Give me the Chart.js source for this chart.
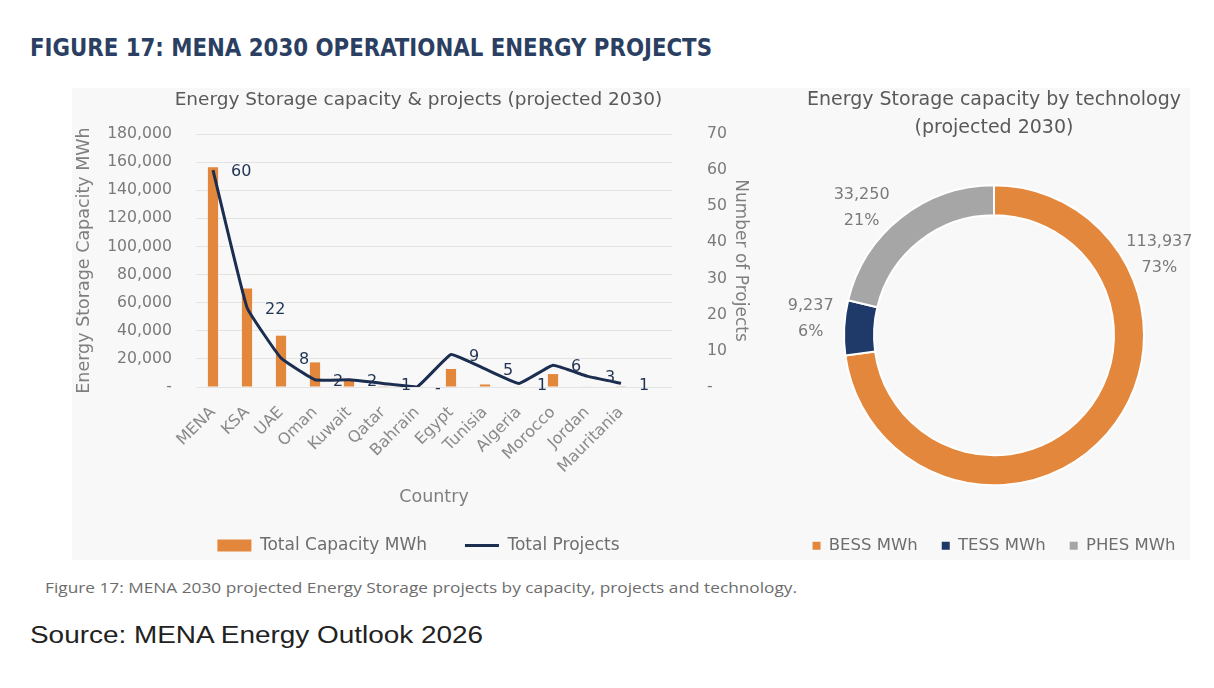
<!DOCTYPE html>
<html>
<head>
<meta charset="utf-8">
<script src="https://cdn.jsdelivr.net/npm/chart.js@4.4.1/dist/chart.umd.min.js"></script>
<style>
  body { margin: 0; width: 1214px; height: 688px; background: #fff; position: relative; overflow: hidden; }
  .txt { position: absolute; white-space: nowrap; transform-origin: 0 50%; }
  #panel { position: absolute; left: 72px; top: 88px; width: 1118px; height: 472px; background: #f8f8f8; }
  #head { left: 30px; top: 34px; line-height: 28px; font: bold 24px "Liberation Sans Narrow", "DejaVu Sans Condensed", sans-serif; color: #2b3f63; }
  #caption { left: 45px; top: 578px; line-height: 20px; font: 14px "Open Sans", sans-serif; color: #6d6d6d; }
  #source { left: 30px; top: 622px; line-height: 28px; font: 23px "Liberation Sans", Arial, sans-serif; color: #222; }
  #c1 { position: absolute; left: 72px; top: 88px; }
  #c2 { position: absolute; left: 786px; top: 86px; }
</style>
</head>
<body>
<div id="panel"></div>
<div class="txt" id="head">FIGURE 17: MENA 2030 OPERATIONAL ENERGY PROJECTS</div>
<canvas id="c1" width="693" height="476"></canvas>
<canvas id="c2" width="416" height="478"></canvas>
<div class="txt" id="caption">Figure 17: MENA 2030 projected Energy Storage projects by capacity, projects and technology.</div>
<div class="txt" id="source">Source: MENA Energy Outlook 2026</div>
<script>
// Data
const countries = ['MENA', 'KSA', 'UAE', 'Oman', 'Kuwait', 'Qatar', 'Bahrain', 'Egypt', 'Tunisia', 'Algeria', 'Morocco', 'Jordan', 'Mauritania'];
const capacityMWh = [156424, 70000, 36500, 17500, 5200, 500, 0, 12800, 1800, 300, 9200, 300, 200];
const projects = [60, 22, 8, 2, 2, 1, 0, 9, 5, 1, 6, 3, 1];
const capacityAxis = [0, 180000, 20000]; // min, max, step
const projectsAxis = [0, 70, 10];

const techLabels = ['BESS MWh', 'TESS MWh', 'PHES MWh'];
const techValues = [113937, 9237, 33250];

// Stretch html texts to the widths seen in the picture
function fit(id, w) {
  const el = document.getElementById(id);
  el.style.transform = 'scaleX(' + (w / el.getBoundingClientRect().width) + ')';
}
fit('head', 682);
fit('caption', 752);
fit('source', 453);

const FONT = '"DejaVu Sans", sans-serif';
const orange = '#e3873d';
const navy = '#1c2e50';
const grey = '#7a7a7a';

const dash = v => v === 0 ? '-' : v.toLocaleString('en-US');

// numbers next to the line points
const lineLabels = {
  id: 'lineLabels',
  afterDatasetsDraw(chart) {
    const ctx = chart.ctx;
    const vals = chart.data.datasets[1].data;
    ctx.save();
    ctx.font = '16px ' + FONT;
    ctx.fillStyle = '#1f3354';
    ctx.textAlign = 'left';
    ctx.textBaseline = 'middle';
    chart.getDatasetMeta(1).data.forEach((pt, i) => {
      ctx.fillText(dash(vals[i]), pt.x + 18, pt.y + 2);
    });
    ctx.restore();
  }
};

// value + percent outside the ring
const donutLabels = {
  id: 'donutLabels',
  afterDatasetsDraw(chart, args, opts) {
    const ctx = chart.ctx;
    const vals = chart.data.datasets[0].data;
    const total = vals.reduce((a, b) => a + b, 0);
    ctx.save();
    ctx.font = '16px ' + FONT;
    ctx.fillStyle = grey;
    ctx.textAlign = 'center';
    ctx.textBaseline = 'middle';
    chart.getDatasetMeta(0).data.forEach((arc, i) => {
      const p = arc.getProps(['x', 'y', 'outerRadius', 'startAngle', 'endAngle'], true);
      const a = opts.angles[i] != null ? opts.angles[i] * Math.PI / 180 : (p.startAngle + p.endAngle) / 2;
      const r = p.outerRadius + opts.offset;
      const lx = p.x + r * Math.cos(a), ly = p.y + r * Math.sin(a);
      ctx.fillText(vals[i].toLocaleString('en-US'), lx, ly - 13);
      ctx.fillText(Math.round(vals[i] / total * 100) + '%', lx, ly + 13);
    });
    ctx.restore();
  }
};

new Chart(document.getElementById('c1'), {
  data: {
    labels: countries.concat(['']),
    datasets: [
      {
        type: 'bar',
        label: 'Total Capacity MWh',
        data: capacityMWh,
        backgroundColor: orange,
        yAxisID: 'y',
        order: 1,
        barPercentage: 0.3,
        categoryPercentage: 1
      },
      {
        type: 'line',
        label: 'Total Projects',
        data: projects,
        borderColor: navy,
        backgroundColor: navy,
        borderWidth: 3,
        pointRadius: 0,
        tension: 0.1,
        yAxisID: 'y1',
        order: 0
      }
    ]
  },
  options: {
    responsive: false,
    animation: false,
    layout: { padding: 0 },
    plugins: {
      title: {
        display: true,
        text: 'Energy Storage capacity & projects (projected 2030)',
        color: '#595959',
        font: { family: FONT, size: 18.5, weight: 'normal' },
        padding: { top: 0.9, bottom: 22.9 }
      },
      legend: {
        position: 'bottom',
        labels: {
          usePointStyle: true,
          pointStyleWidth: 34,
          boxHeight: 12,
          padding: 38,
          color: '#6e6e6e',
          font: { family: FONT, size: 17 },
          sort: (a, b) => a.datasetIndex - b.datasetIndex,
          generateLabels(chart) {
            const items = Chart.defaults.plugins.legend.labels.generateLabels(chart);
            items.forEach(it => {
              const ds = chart.data.datasets[it.datasetIndex];
              it.pointStyle = ds.type === 'line' ? 'line' : 'rect';
              if (ds.type !== 'line') it.lineWidth = 0;
            });
            return items;
          }
        }
      },
      tooltip: { enabled: false }
    },
    scales: {
      x: {
        grid: { display: false },
        border: { display: false },
        ticks: { autoSkip: false, maxRotation: 45, minRotation: 45, padding: 8, color: '#8a8a8a', font: { family: FONT, size: 16 } },
        title: { display: true, text: 'Country', color: '#7f7f7f', font: { family: FONT, size: 17.5 }, padding: { top: 0, bottom: -8.5 } },
        afterFit(s) { s.height = 112; }
      },
      y: {
        position: 'left',
        min: capacityAxis[0],
        max: capacityAxis[1],
        ticks: { stepSize: capacityAxis[2], padding: 24, color: grey, font: { family: FONT, size: 15.7 }, callback: v => dash(v) },
        grid: { color: '#e4e4e4', drawTicks: false },
        border: { display: false },
        title: { display: true, text: 'Energy Storage Capacity MWh', color: '#7f7f7f', font: { family: FONT, size: 17.5 }, padding: { top: 1.5, bottom: 0 } },
        afterFit(s) { s.width = 124; }
      },
      y1: {
        position: 'right',
        min: projectsAxis[0],
        max: projectsAxis[1],
        ticks: { stepSize: projectsAxis[2], padding: 27, color: grey, font: { family: FONT, size: 15.7 }, callback: v => dash(v) },
        grid: { display: false },
        border: { display: false },
        title: { display: true, text: 'Number of Projects', color: '#7f7f7f', font: { family: FONT, size: 17 }, padding: { top: 14.8, bottom: 0 } },
        afterFit(s) { s.width = 93; }
      }
    }
  },
  plugins: [lineLabels]
});

new Chart(document.getElementById('c2'), {
  type: 'doughnut',
  data: {
    labels: techLabels,
    datasets: [{
      data: techValues,
      backgroundColor: [orange, '#1f3a68', '#a6a6a6'],
      borderColor: '#ffffff',
      borderWidth: 2,
      radius: 150,
      cutout: '80%'
    }]
  },
  options: {
    responsive: false,
    animation: false,
    layout: { padding: 0 },
    plugins: {
      title: {
        display: true,
        text: ['Energy Storage capacity by technology', '(projected 2030)'],
        color: '#595959',
        font: { family: FONT, size: 19, weight: 'normal', lineHeight: '28px' },
        padding: { top: 0, bottom: 15 }
      },
      legend: {
        position: 'bottom',
        labels: {
          usePointStyle: true,
          pointStyle: 'rect',
          pointStyleWidth: 8,
          boxHeight: 8,
          padding: 24,
          color: '#6e6e6e',
          font: { family: FONT, size: 16.5 },
          generateLabels(chart) {
            const items = Chart.overrides.doughnut.plugins.legend.labels.generateLabels(chart);
            items.forEach(it => { it.lineWidth = 0; });
            return items;
          }
        }
      },
      tooltip: { enabled: false },
      donutLabels: { angles: [-26, 185, 224], offset: 34 }
    }
  },
  plugins: [donutLabels]
});
</script>
</body>
</html>
